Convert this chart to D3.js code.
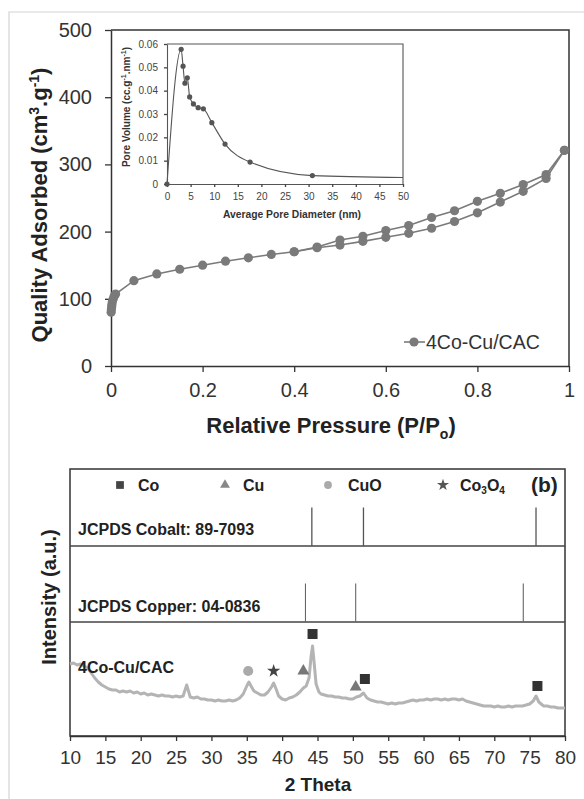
<!DOCTYPE html>
<html><head><meta charset="utf-8">
<script src="https://cdn.jsdelivr.net/npm/d3@7"></script>
<style>
html,body{margin:0;padding:0;background:#fff;}
svg{display:block;font-family:"Liberation Sans",Arial,sans-serif;}
</style></head>
<body><svg id="c" width="584" height="799"></svg>
<script>
// ---------- Panel (a): N2 isotherm ----------
const adsP = [0.0003,0.0008,0.0015,0.002,0.003,0.005,0.007,0.01,0.05,0.1,0.15,0.2,0.25,0.3,0.35,0.4,0.45,0.5,0.55,0.6,0.65,0.7,0.75,0.8,0.85,0.9,0.95,0.99];
const adsV = [80,84,88,92,96,100,104,107,127,137,144,150,156,161,166,170,176,180,185.5,191.5,197.5,205,215,228,244,260,279,321];
const desP = [0.99,0.95,0.9,0.85,0.8,0.75,0.7,0.65,0.6,0.55,0.5,0.45,0.4];
const desV = [321,285,270,257,245,231,221,209,201.5,193,187.5,177,170];
const isoTicksX = [0,0.2,0.4,0.6,0.8,1];
const isoTicksY = [0,100,200,300,400,500];
const seriesName = "4Co-Cu/CAC";

// inset: pore size distribution
const poreD = [0,3.0,3.4,3.8,4.3,4.8,5.6,6.6,7.7,9.5,12.3,17.6,30.8,50];
const poreV = [0,0.0577,0.0505,0.0432,0.0455,0.0373,0.0343,0.0327,0.0322,0.0263,0.0171,0.0094,0.0036,0.0028];
const poreMarked = [1,1,1,1,1,1,1,1,1,1,1,1,1,0];
const insetTicksX = [0,5,10,15,20,25,30,35,40,45,50];
const insetTicksY = [0,0.01,0.02,0.03,0.04,0.05,0.06];

// ---------- Panel (b): XRD ----------
const xrdTheta = [10,10.5,11,11.5,12,12.5,13,13.5,14,14.5,15,15.5,16,16.5,17,17.5,18,18.5,19,19.5,20,20.5,21,21.5,22,22.5,23,23.5,24,24.5,25,25.5,26,26.5,27,27.5,28,28.5,29,29.5,30,30.5,31,31.5,32,32.5,33,33.5,34,34.5,35,35.3,35.6,36,36.5,37,37.5,38,38.5,38.8,39.2,39.5,40,40.5,41,41.5,42,42.5,43,43.4,43.8,44.1,44.3,44.5,44.8,45.2,45.5,46,46.5,47,47.5,48,48.5,49,49.5,50,50.5,51,51.5,52,52.5,53,53.5,54,54.5,55,55.5,56,56.5,57,57.5,58,58.5,59,59.5,60,60.5,61,61.5,62,62.5,63,63.5,64,64.5,65,65.5,66,66.5,67,67.5,68,68.5,69,69.5,70,70.5,71,71.5,72,72.5,73,73.5,74,74.5,75,75.5,75.9,76.3,76.8,77,77.5,78,78.5,79,79.5,80];
const xrdIntensity = [72,73,71,72,70,68,63,58,54,51,49,47,46,46,44,45,44,45,43,44,42,43,41,42,41,40,41,40,40,39,40,39,40,51,39,38,39,37,37,36,36,35,36,35,35,36,35,36,38,42,50,54,50,45,43,41,41,44,49,53,46,40,37,36,38,39,41,44,48,50,58,80,90,75,52,44,42,41,40,40,39,39,38,38,37,37,39,40,43,38,36,35,34,34,33,32,33,32,33,33,34,35,36,35,36,36,37,36,37,37,36,37,36,37,37,36,37,35,34,33,32,31,30,30,30,29,30,29,29,30,29,30,30,30,31,32,35,40,34,31,30,30,29,29,28,28,28];
const xrdTicks = [10,15,20,25,30,35,40,45,50,55,60,65,70,75,80];
const cobaltRef = [44.2,51.5,75.9];
const cobaltRefI = [50,50,50];
const copperRef = [43.3,50.4,74.1];
const copperRefI = [50,50,50];
const phaseMarks = [
  {phase:"CuO", t:35.2, i:65},
  {phase:"Co3O4", t:38.8, i:65},
  {phase:"Cu", t:43.0, i:65},
  {phase:"Co", t:44.3, i:102},
  {phase:"Cu", t:50.4, i:49},
  {phase:"Co", t:51.7, i:57},
  {phase:"Co", t:76.1, i:50}
];
const phases = ["Co","Cu","CuO","Co3O4"];

// ================= drawing =================
const svg = d3.select("#c");
const FONT = '"Liberation Sans",Arial,sans-serif';
const dark = "#333";

// scan page edge
svg.append("path").attr("d","M9,799V12H584").attr("fill","none").attr("stroke","#d4d4d4").attr("stroke-width",1.2);

// ---- Panel a ----
const x = d3.scaleLinear().domain([0,1]).range([111,569]);
const y = d3.scaleLinear().domain([0,500]).range([366,30]);
const gA = svg.append("g");

function styleAxis(g, size, color){
  g.selectAll("path.domain").attr("stroke",color).attr("stroke-width",1.5);
  g.selectAll(".tick line").attr("stroke",color).attr("stroke-width",1.3);
  g.selectAll(".tick text").attr("fill",color).attr("font-size",size).attr("font-family",FONT);
}

// frame
gA.append("path").attr("d",`M${x(0)},${y(500)}H${x(1)}V${y(0)}`).attr("fill","none").attr("stroke",dark).attr("stroke-width",1.5);

const axY = gA.append("g").attr("transform",`translate(${x(0)},0)`)
  .call(d3.axisLeft(y).tickValues(isoTicksY).tickSize(6).tickSizeOuter(0).tickPadding(13).tickFormat(d3.format("d")));
styleAxis(axY,"20px",dark);
const axX = gA.append("g").attr("transform",`translate(0,${y(0)})`)
  .call(d3.axisBottom(x).tickValues(isoTicksX).tickSize(6).tickSizeOuter(0).tickPadding(11).tickFormat(d=>d3.format("")(d)));
styleAxis(axX,"20px",dark);

// titles
const tY = gA.append("text").attr("transform","translate(47,205) rotate(-90)")
  .attr("text-anchor","middle").attr("font-weight","bold").attr("font-size","22px").attr("fill","#222");
tY.append("tspan").text("Quality Adsorbed (cm");
tY.append("tspan").text("3").attr("font-size","14px").attr("dy","-8");
tY.append("tspan").text(".g").attr("dy","8");
tY.append("tspan").text("-1").attr("font-size","14px").attr("dy","-8");
tY.append("tspan").text(")").attr("dy","8");

const tX = gA.append("text").attr("x",331).attr("y",433)
  .attr("text-anchor","middle").attr("font-weight","bold").attr("font-size","22px").attr("fill","#222");
tX.append("tspan").text("Relative Pressure (P/P");
tX.append("tspan").text("o").attr("font-size","14px").attr("dy","6");
tX.append("tspan").text(")").attr("dy","-6");

// data
const isoColor = "#7a7a7a";
const ads = adsP.map((p,i)=>[p,adsV[i]]);
const des = desP.map((p,i)=>[p,desV[i]]);
const line = d3.line().x(d=>x(d[0])).y(d=>y(d[1]));
[ads,des].forEach(s=>{
  gA.append("path").attr("d",line(s)).attr("fill","none").attr("stroke",isoColor).attr("stroke-width",1.6);
});
[ads,des].forEach(s=>{
  gA.append("g").selectAll("circle").data(s).join("circle")
    .attr("cx",d=>x(d[0])).attr("cy",d=>y(d[1])).attr("r",4.6).attr("fill",isoColor);
});

// legend
const lg = gA.append("g");
lg.append("line").attr("x1",404).attr("x2",425).attr("y1",342).attr("y2",342).attr("stroke",isoColor).attr("stroke-width",1.6);
lg.append("circle").attr("cx",414).attr("cy",342).attr("r",4.6).attr("fill",isoColor);
lg.append("text").attr("x",426).attr("y",349).attr("font-size","19.5px").attr("fill","#333").text(seriesName);

// ---- inset ----
const xi = d3.scaleLinear().domain([0,50]).range([167,403]);
const yi = d3.scaleLinear().domain([0,0.06]).range([184,44]);
const gI = svg.append("g");
gI.append("rect").attr("x",xi(0)).attr("y",yi(0.06)).attr("width",xi(50)-xi(0)).attr("height",yi(0)-yi(0.06)).attr("fill","#fff");
gI.append("path").attr("d",`M${xi(0)},${yi(0.06)}H${xi(50)}V${yi(0)}`).attr("fill","none").attr("stroke","#555").attr("stroke-width",1.1);
const iaY = gI.append("g").attr("transform",`translate(${xi(0)},0)`)
  .call(d3.axisLeft(yi).tickValues(insetTicksY).tickSize(3).tickSizeOuter(0).tickPadding(6).tickFormat(d=>d===0?"0":d3.format(".2f")(d)));
styleAxis(iaY,"10px","#444");
iaY.selectAll("path.domain").attr("stroke-width",1.1).attr("stroke","#555");
const iaX = gI.append("g").attr("transform",`translate(0,${yi(0)})`)
  .call(d3.axisBottom(xi).tickValues(insetTicksX).tickSize(3).tickSizeOuter(0).tickPadding(6));
styleAxis(iaX,"10px","#444");
iaX.selectAll("path.domain").attr("stroke-width",1.1).attr("stroke","#555");
gI.append("text").attr("x",292).attr("y",218).attr("text-anchor","middle").attr("font-weight","bold").attr("font-size","10.3px").attr("fill","#333").text("Average Pore Diameter (nm)");
const tIY = gI.append("text").attr("transform","translate(130,107) rotate(-90)")
  .attr("text-anchor","middle").attr("font-weight","bold").attr("font-size","10px").attr("fill","#333");
tIY.append("tspan").text("Pore Volume (cc.g");
tIY.append("tspan").text("-1").attr("font-size","7px").attr("dy","-4");
tIY.append("tspan").text(".nm").attr("dy","4");
tIY.append("tspan").text("-1").attr("font-size","7px").attr("dy","-4");
tIY.append("tspan").text(")").attr("dy","4");
const pore = poreD.map((d,i)=>({d, v:poreV[i], m:poreMarked[i]}));
gI.append("path").attr("d", d3.line().x(p=>xi(p.d)).y(p=>yi(p.v)).curve(d3.curveMonotoneX)(pore))
  .attr("fill","none").attr("stroke","#555").attr("stroke-width",1.1);
gI.append("g").selectAll("circle").data(pore.filter(p=>p.m)).join("circle")
  .attr("cx",p=>xi(p.d)).attr("cy",p=>yi(p.v)).attr("r",2.6).attr("fill","#555");

// ---- Panel b ----
const xb = d3.scaleLinear().domain([10,80]).range([70,565]);
const yPat = d3.scaleLinear().domain([0,114]).range([736,622]);
const yRef = d3.scaleLinear().domain([0,100]).range([0,77]);
const gB = svg.append("g");
const cobaltBase = 546, copperBase = 622;
gB.append("rect").attr("x",xb(10)).attr("y",469).attr("width",xb(80)-xb(10)).attr("height",yPat(0)-469)
  .attr("fill","none").attr("stroke",dark).attr("stroke-width",1.5);
gB.append("line").attr("x1",xb(10)).attr("x2",xb(80)).attr("y1",cobaltBase).attr("y2",cobaltBase).attr("stroke","#444").attr("stroke-width",1.3);
gB.append("line").attr("x1",xb(10)).attr("x2",xb(80)).attr("y1",copperBase).attr("y2",copperBase).attr("stroke","#444").attr("stroke-width",1.3);

const axB = gB.append("g").attr("transform",`translate(0,${yPat(0)})`)
  .call(d3.axisBottom(xb).tickValues(xrdTicks).tickSize(5).tickSizeOuter(0).tickPadding(10));
styleAxis(axB,"19px",dark);

// reference sticks
gB.append("g").selectAll("line").data(cobaltRef.map((t,i)=>[t,cobaltRefI[i]])).join("line")
  .attr("x1",d=>xb(d[0])).attr("x2",d=>xb(d[0])).attr("y1",cobaltBase).attr("y2",d=>cobaltBase-yRef(d[1]))
  .attr("stroke","#555").attr("stroke-width",1.3);
gB.append("g").selectAll("line").data(copperRef.map((t,i)=>[t,copperRefI[i]])).join("line")
  .attr("x1",d=>xb(d[0])).attr("x2",d=>xb(d[0])).attr("y1",copperBase).attr("y2",d=>copperBase-yRef(d[1]))
  .attr("stroke","#666").attr("stroke-width",1.1);

// pattern
const pat = xrdTheta.map((t,i)=>[t,xrdIntensity[i]]);
gB.append("path").attr("d",d3.line().x(d=>xb(d[0])).y(d=>yPat(d[1]))(pat))
  .attr("fill","none").attr("stroke","#b4b4b4").attr("stroke-width",3).attr("stroke-linejoin","round");

// phase symbols
const symStyle = {
  Co:{type:d3.symbolSquare,size:100,fill:"#333",lsize:60,lfill:"#444"},
  Cu:{type:d3.symbolTriangle,size:62,fill:"#777",lsize:42,lfill:"#888"},
  CuO:{type:d3.symbolCircle,size:80,fill:"#aaa",lsize:48,lfill:"#aaa"},
  Co3O4:{type:d3.symbolStar,size:55,fill:"#444",lsize:45,lfill:"#555"}
};
gB.append("g").selectAll("path").data(phaseMarks).join("path")
  .attr("transform",d=>`translate(${xb(d.t)},${yPat(d.i)})`)
  .attr("d",d=>d3.symbol().type(symStyle[d.phase].type).size(symStyle[d.phase].size)())
  .attr("fill",d=>symStyle[d.phase].fill);

// legend row
const legX = {Co:[120,138],Cu:[225,243],CuO:[328,348],Co3O4:[443,460]};
phases.forEach(p=>{
  const s = symStyle[p];
  gB.append("path").attr("transform",`translate(${legX[p][0]},485)`)
    .attr("d",d3.symbol().type(s.type).size(s.lsize)()).attr("fill",s.lfill);
  const t = gB.append("text").attr("x",legX[p][1]).attr("y",491).attr("font-weight","bold").attr("font-size","16px").attr("fill","#222");
  if(p==="Co3O4"){
    t.append("tspan").text("Co");
    t.append("tspan").text("3").attr("font-size","10px").attr("dy","3");
    t.append("tspan").text("O").attr("dy","-3");
    t.append("tspan").text("4").attr("font-size","10px").attr("dy","3");
  } else t.text(p);
});
gB.append("text").attr("x",531).attr("y",492).attr("font-weight","bold").attr("font-size","21px").attr("fill","#222").text("(b)");

// labels
gB.append("text").attr("x",78).attr("y",535).attr("font-weight","bold").attr("font-size","16px").attr("fill","#222").text("JCPDS Cobalt: 89-7093");
gB.append("text").attr("x",78).attr("y",612).attr("font-weight","bold").attr("font-size","16px").attr("fill","#222").text("JCPDS Copper: 04-0836");
gB.append("text").attr("x",78).attr("y",673).attr("font-weight","bold").attr("font-size","16px").attr("fill","#222").text(seriesName);

gB.append("text").attr("transform","translate(56,597) rotate(-90)").attr("text-anchor","middle")
  .attr("font-weight","bold").attr("font-size","20px").attr("fill","#222").text("Intensity (a.u.)");
gB.append("text").attr("x",318).attr("y",791).attr("text-anchor","middle")
  .attr("font-weight","bold").attr("font-size","19px").attr("fill","#222").text("2 Theta");
</script></body></html>
